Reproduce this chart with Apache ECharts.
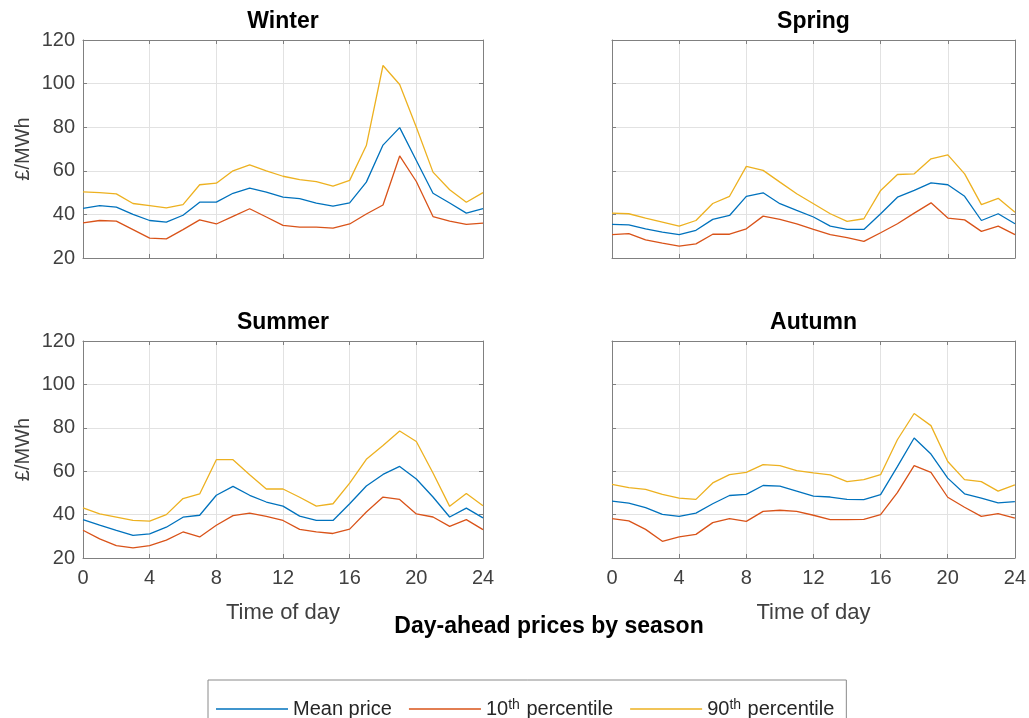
<!DOCTYPE html>
<html>
<head>
<meta charset="utf-8">
<script src="https://cdn.jsdelivr.net/npm/echarts@6/dist/echarts.min.js"></script>
<style>
html,body{margin:0;padding:0;background:#fff;}
#chart{width:1029px;height:718px;}
</style>
</head>
<body>
<div id="chart"></div>
<script>
const hours = [0,1,2,3,4,5,6,7,8,9,10,11,12,13,14,15,16,17,18,19,20,21,22,23,24];
const xTicks = [0,4,8,12,16,20,24];
const yTicks = [20,40,60,80,100,120];
const seasons = ['Winter','Spring','Summer','Autumn'];
const seriesNames = ['Mean price','10th percentile','90th percentile'];

const winterMean = [42.8,44.0,43.3,40.0,37.2,36.5,39.6,45.6,45.6,49.7,52.0,50.2,47.9,47.2,45.2,43.8,45.3,54.8,71.8,79.8,64.7,49.7,45.2,40.6,42.6];
const winterP10  = [36.1,37.2,36.9,33.0,29.1,28.8,33.0,37.5,35.6,39.1,42.6,38.8,35.0,34.2,34.2,33.7,35.6,40.2,44.3,66.8,55.1,39.0,36.9,35.4,36.0];
const winterP90  = [50.3,50.0,49.4,45.0,44.0,43.0,44.5,53.6,54.3,60.0,62.7,60.0,57.5,56.0,55.0,53.0,55.6,71.6,108.3,99.6,80.0,59.4,51.3,45.6,50.0];

const springMean = [35.4,35.2,33.4,31.9,30.7,32.7,37.7,39.5,48.3,49.9,44.9,41.8,38.8,34.6,33.1,33.1,40.3,47.9,51.0,54.5,53.6,48.3,37.2,40.3,35.7];
const springP10  = [30.7,31.2,28.3,26.8,25.4,26.5,30.9,30.9,33.4,39.2,37.7,35.7,33.1,30.7,29.3,27.6,31.6,35.7,40.6,45.3,38.3,37.5,32.2,34.6,30.7];
const springP90  = [40.6,40.3,38.3,36.5,34.6,37.2,45.0,48.3,62.0,60.2,54.8,49.5,44.9,40.3,36.8,38.0,51.0,58.3,58.6,65.5,67.3,58.6,44.5,47.4,41.0];

const summerMean = [37.7,35.1,32.7,30.4,31.1,34.2,38.8,39.7,48.9,53.0,48.9,45.8,43.9,39.3,37.3,37.3,45.0,53.2,58.5,62.2,56.4,48.1,38.9,43.0,38.5];
const summerP10  = [32.8,28.8,25.7,24.7,25.7,28.2,32.0,29.7,35.1,39.5,40.7,39.2,37.3,33.2,32.0,31.3,33.3,41.2,48.1,47.0,40.3,38.9,34.6,37.7,33.1];
const summerP90  = [43.1,40.3,38.8,37.3,37.0,40.0,47.4,49.5,65.3,65.3,58.4,51.8,51.8,48.0,43.9,45.0,54.5,65.5,71.8,78.5,73.7,59.2,43.8,49.7,44.1];

const autumnMean = [46.2,45.3,43.2,40.1,39.2,40.7,45.0,48.8,49.3,53.4,53.1,50.8,48.5,48.1,47.0,46.9,49.2,62.1,75.3,67.9,56.8,49.6,47.6,45.4,46.0];
const autumnP10  = [38.1,37.1,33.2,27.7,29.7,30.9,36.3,38.1,36.9,41.5,42.0,41.5,39.7,37.7,37.7,37.8,40.0,50.1,62.6,59.5,48.0,43.4,39.2,40.4,38.4];
const autumnP90  = [53.9,52.4,51.6,49.3,47.6,47.0,54.6,58.4,59.5,63.0,62.6,60.3,59.2,58.3,55.2,56.1,58.4,74.5,86.6,81.0,64.5,56.1,55.2,50.8,53.7];

const seasonData = [
  [winterMean, winterP10, winterP90],
  [springMean, springP10, springP90],
  [summerMean, summerP10, summerP90],
  [autumnMean, autumnP10, autumnP90]
];

const colors = ['#0072BD','#D95319','#EDB120'];
const FONT = 'Liberation Sans, Arial, sans-serif';
const axisColor = '#808080';
const labelColor = '#404040';

const grids = [
  {left:83, top:40, width:400, height:218},
  {left:612, top:40, width:403, height:218},
  {left:83, top:341, width:400, height:217},
  {left:612, top:341, width:403, height:217}
];

const xAxes = [], yAxes = [], series = [], graphics = [];
grids.forEach((g, i) => {
  const bottomRow = i >= 2;
  const leftCol = i % 2 === 0;
  xAxes.push({
    gridIndex:i, type:'value', min:0, max:24, interval:4, position:'bottom',
    axisLine:{show:true, onZero:false, lineStyle:{color:axisColor, width:1}},
    axisTick:{show:true, inside:true, length:4, lineStyle:{color:axisColor}},
    axisLabel:{show:bottomRow, color:labelColor, fontSize:20, fontFamily:FONT, margin:10},
    splitLine:{show:true, lineStyle:{color:'#e2e2e2', width:1}},
    name: bottomRow ? 'Time of day' : '',
    nameLocation:'middle', nameGap:44,
    nameTextStyle:{color:labelColor, fontSize:22, fontFamily:FONT}
  });
  xAxes.push({
    gridIndex:i, type:'value', min:0, max:24, interval:4, position:'top',
    axisLine:{show:true, onZero:false, lineStyle:{color:axisColor, width:1}},
    axisTick:{show:true, inside:true, length:4, lineStyle:{color:axisColor}},
    axisLabel:{show:false}, splitLine:{show:false}
  });
  yAxes.push({
    gridIndex:i, type:'value', min:20, max:120, interval:20, position:'left',
    axisLine:{show:true, onZero:false, lineStyle:{color:axisColor, width:1}},
    axisTick:{show:true, inside:true, length:4, lineStyle:{color:axisColor}},
    axisLabel:{show:leftCol, color:labelColor, fontSize:20, fontFamily:FONT, margin:8},
    splitLine:{show:true, lineStyle:{color:'#e2e2e2', width:1}},
    name: leftCol ? '£/MWh' : '',
    nameLocation:'middle', nameGap:50, nameRotate:90,
    nameTextStyle:{color:labelColor, fontSize:20, fontFamily:FONT}
  });
  yAxes.push({
    gridIndex:i, type:'value', min:20, max:120, interval:20, position:'right',
    axisLine:{show:true, onZero:false, lineStyle:{color:axisColor, width:1}},
    axisTick:{show:true, inside:true, length:4, lineStyle:{color:axisColor}},
    axisLabel:{show:false}, splitLine:{show:false}
  });
  seasonData[i].forEach((vals, k) => {
    series.push({
      name: seriesNames[k], type:'line', xAxisIndex:i*2, yAxisIndex:i*2,
      symbol:'none', smooth:false, animation:false,
      lineStyle:{color:colors[k], width:1.3},
      itemStyle:{color:colors[k]},
      data: hours.map((h, j) => [h, vals[j]])
    });
  });
  graphics.push({
    type:'text', x: g.left + g.width/2, y: g.top - 18,
    style:{text:seasons[i], fill:'#000', font:'bold 23px ' + FONT, textAlign:'center', textVerticalAlign:'middle'}
  });
});
graphics.push({
  type:'text', x:549, y:627,
  style:{text:'Day-ahead prices by season', fill:'#000', font:'bold 23px ' + FONT, textAlign:'center', textVerticalAlign:'middle'}
});

const chart = echarts.init(document.getElementById('chart'), null, {renderer:'canvas'});
chart.setOption({
  animation:false,
  backgroundColor:'#fff',
  grid: grids.map(g => Object.assign({containLabel:false, show:false}, g)),
  xAxis: xAxes,
  yAxis: yAxes,
  series: series,
  graphic: graphics,
  legend: {
    data: seriesNames.map(n => ({name:n, icon:'rect'})),
    left: 208, top: 680,
    orient:'horizontal',
    padding:[18, 12, 20, 8],
    itemGap: 17, itemWidth: 72, itemHeight: 1.5,
    borderColor:'#8a8a8a', borderWidth:1,
    backgroundColor:'#fff',
    formatter: name => name.replace('th', '{sup|th}'),
    textStyle:{color:'#262626', fontSize:20, fontFamily:FONT, lineHeight:22,
      rich:{ sup:{fontSize:14, fontFamily:FONT, color:'#262626', verticalAlign:'top', lineHeight:14, padding:[0,1,0,0]} }
    }
  }
});
</script>
</body>
</html>
